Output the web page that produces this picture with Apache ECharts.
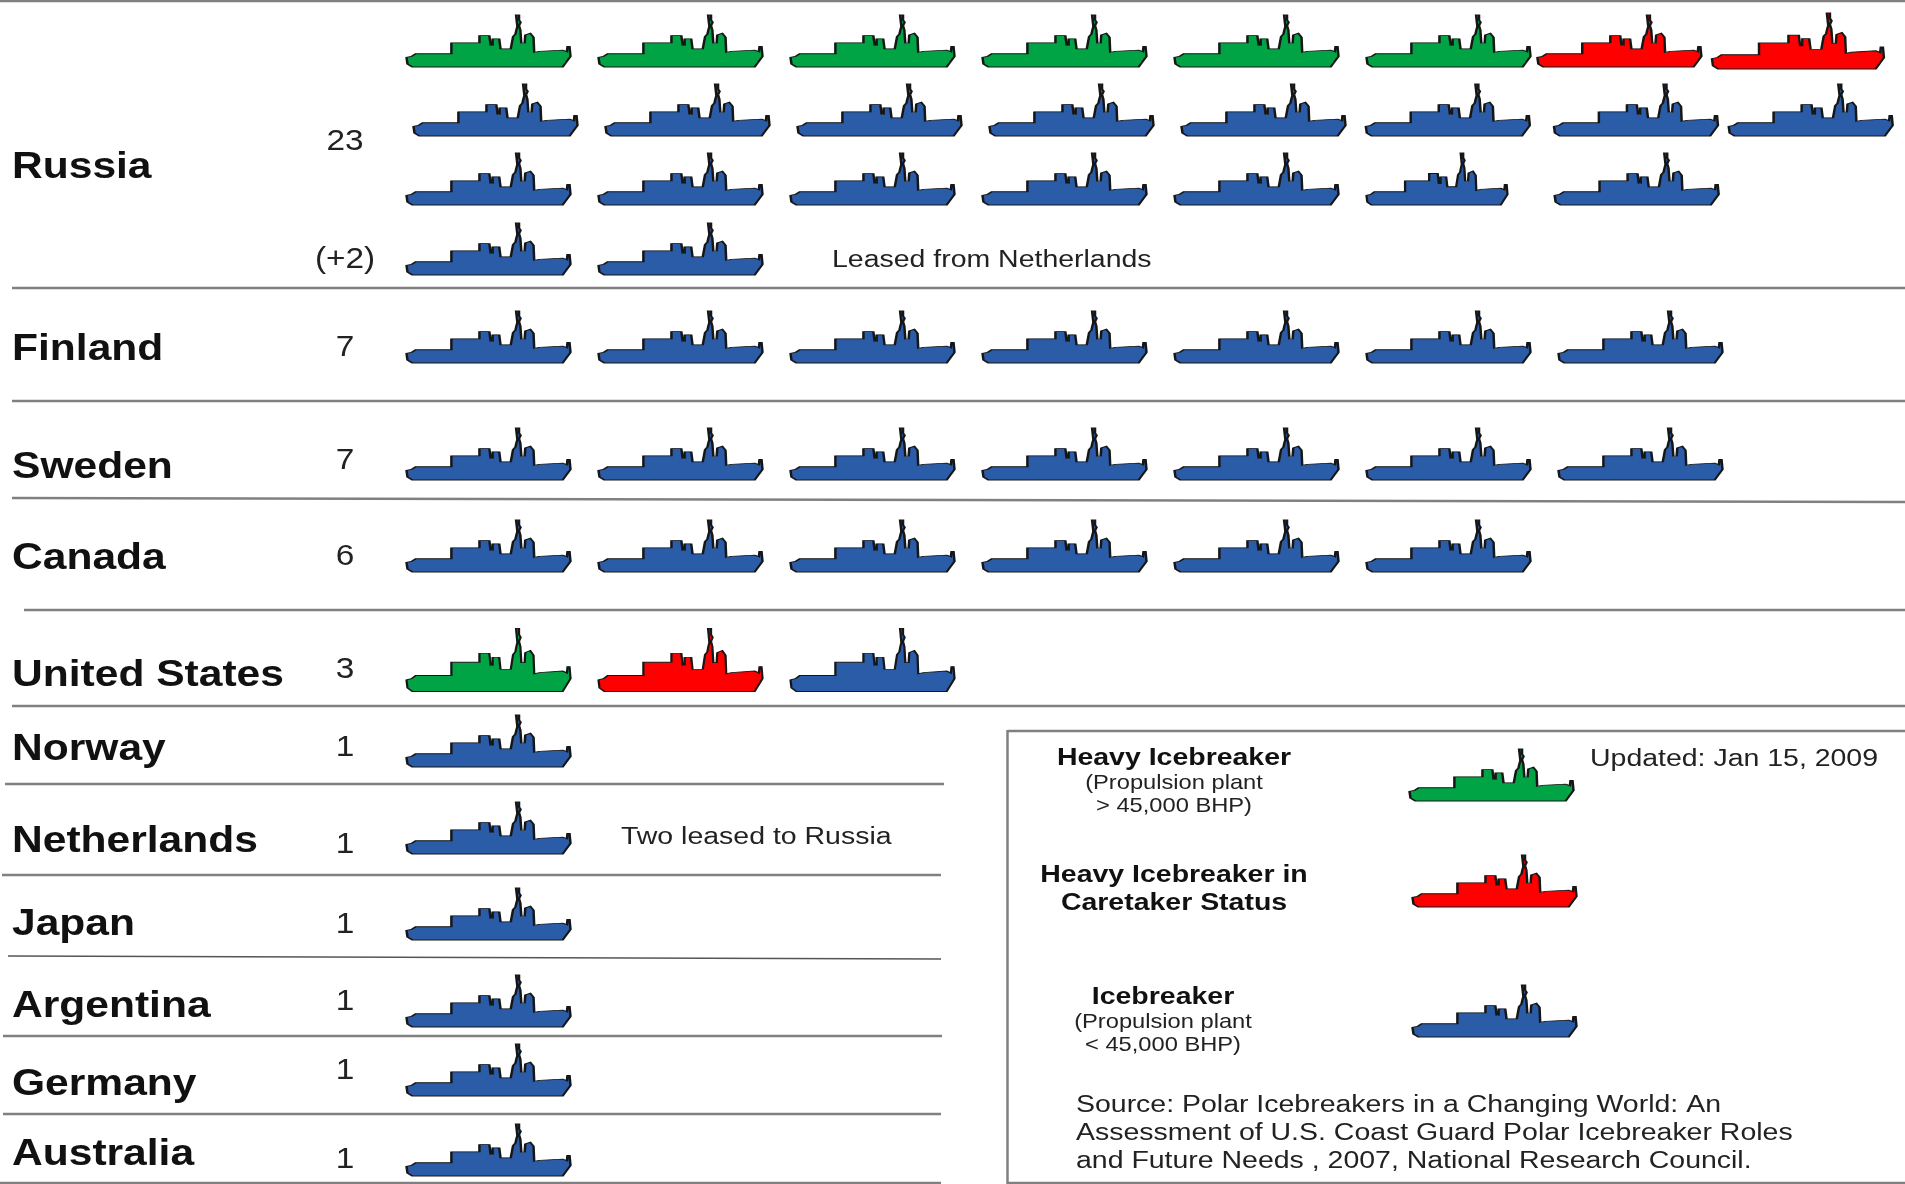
<!DOCTYPE html>
<html>
<head>
<meta charset="utf-8">
<title>Polar icebreakers by country</title>
<script src="https://cdn.jsdelivr.net/npm/echarts@6/dist/echarts.min.js"></script>
<style>
  html, body { margin: 0; padding: 0; background: #fff; }
  #chart { width: 1905px; height: 1184px; }
  /* reference is a soft upscaled image */
  #chart canvas { filter: blur(0.6px); }
</style>
</head>
<body>
<div id="chart"></div>
<script>
// H = heavy, C = heavy in caretaker status, I = icebreaker
var countries = ['Russia', 'Finland', 'Sweden', 'Canada', 'United States', 'Norway',
                 'Netherlands', 'Japan', 'Argentina', 'Germany', 'Australia'];
var countLabels = ['23', '(+2)', '7', '7', '6', '3', '1', '1', '1', '1', '1', '1'];
var fleetRows = [
  ['H', 'H', 'H', 'H', 'H', 'H', 'C', 'C'],
  ['I', 'I', 'I', 'I', 'I', 'I', 'I', 'I'],
  ['I', 'I', 'I', 'I', 'I', 'I', 'I'],
  ['I', 'I'],
  ['I', 'I', 'I', 'I', 'I', 'I', 'I'],
  ['I', 'I', 'I', 'I', 'I', 'I', 'I'],
  ['I', 'I', 'I', 'I', 'I', 'I'],
  ['H', 'C', 'I'],
  ['I'], ['I'], ['I'], ['I'], ['I'], ['I'],
  // key
  ['H'], ['C'], ['I']
];
var keyTitles = ['Heavy Icebreaker', 'Heavy Icebreaker in', 'Caretaker Status', 'Icebreaker'];
var keyNotes = ['(Propulsion plant', '> 45,000 BHP)', '(Propulsion plant', '< 45,000 BHP)'];
var notes = ['Leased from Netherlands', 'Two leased to Russia', 'Updated: Jan 15, 2009'];
var sourceLines = ['Source: Polar Icebreakers in a Changing World: An',
                   'Assessment of U.S. Coast Guard Polar Icebreaker Roles',
                   'and Future Needs , 2007, National Research Council.'];

// layout, px
var shipColor = { H: '#00a445', C: '#ff0000', I: '#2a5ca8' };
var rowMiddle = [41, 110, 179, 249, 337, 454, 546, 660, 741, 828, 914, 1001, 1070, 1150, 775, 881, 1011];
var rowLeft = [488.5, 495.5, 488.5, 488.5, 488.5, 488.5, 488.5, 488.5, 488.5, 488.5, 488.5, 488.5, 488.5, 488.5, 1491.5, 1494.5, 1494.5];
var rowShipH = { 7: 63 };
// ships that sit off the regular slot grid
var slotOverride = {
  0: { 6: 5.89, 7: 6.82 },
  1: { 5: 4.96, 6: 5.94, 7: 6.85 },
  2: { 5: 4.94, 6: 5.98 }
};
var sizeOverride = { '0-7': [172, 56], '2-5': [141, 52] };
var slotWidth = 192;

var shipPath = 'path://M17,158 L32,155 L45,147 L153,147 L153,114 L238,114 L238,92 L268,92 L272,122 L278,122 ' +
  'L278,102 L298,102 L302,132 L333,132 L340,95 L347,88 L350,75 L353,65 L349,30 L358,30 L358,45 L363,52 L358,62 ' +
  'L362,75 L365,115 L375,115 L377,90 L392,85 L402,97 L404,143 L420,140 L490,136 L503,141 L505,125 L511,125 ' +
  'L514,155 L490,187 L35,187 L20,178 Z';

var grids = [], xAxes = [], yAxes = [], series = [];
fleetRows.forEach(function (row, r) {
  var h = rowShipH[r] || 52;
  var slots = r >= 14 ? 1 : 7;
  grids.push({ left: rowLeft[r], width: slotWidth * slots, top: rowMiddle[r] - h / 2, height: h, show: false });
  xAxes.push({ type: 'value', gridIndex: r, min: 0, max: slots, show: false });
  yAxes.push({ type: 'category', gridIndex: r, data: ['ships'], show: false });
  series.push({
    type: 'scatter',
    xAxisIndex: r,
    yAxisIndex: r,
    symbol: shipPath,
    symbolSize: [164, h],
    silent: true,
    clip: false,
    data: row.map(function (kind, i) {
      var slot = (slotOverride[r] && slotOverride[r][i] !== undefined) ? slotOverride[r][i] : i;
      var item = {
        value: [slot, 0],
        itemStyle: { color: shipColor[kind], opacity: 1, borderColor: '#161616', borderWidth: 1.4 }
      };
      if (sizeOverride[r + '-' + i]) item.symbolSize = sizeOverride[r + '-' + i];
      return item;
    })
  });
});

var SANS = '"Liberation Sans", Arial, sans-serif';
var STRETCH = 1.15;   // the picture is wider than tall
function txt(text, x, y, size, weight, align) {
  return {
    type: 'text', x: x, y: y, scaleX: STRETCH, silent: true,
    style: {
      text: text, fill: weight === 'bold' ? '#111' : '#222',
      font: (weight === 'bold' ? 'bold ' : '') + size + 'px ' + SANS,
      align: align || 'left', verticalAlign: 'middle',
      textAlign: align || 'left', textVerticalAlign: 'middle'
    }
  };
}
function rule(x1, y1, x2, y2, width, color) {
  return {
    type: 'line', silent: true,
    shape: { x1: x1, y1: y1, x2: x2, y2: y2 },
    style: { stroke: color || '#808080', lineWidth: width || 2.5 }
  };
}

var countryY = [168, 350, 468, 559, 676, 750, 842, 925, 1007, 1085, 1155];
var countY = [142, 260, 348, 461, 557, 670, 748, 845, 925, 1002, 1071, 1160];
var ruleLines = [
  [0, 1, 1905, 1], [12, 288, 1905, 288], [12, 401, 1905, 401], [12, 498, 1905, 502],
  [24, 610, 1905, 610], [12, 706, 1905, 706], [5, 784, 944, 784], [2, 875, 941, 875],
  [8, 956, 941, 959], [3, 1036, 942, 1036], [3, 1114, 941, 1114], [0, 1183, 941, 1183]
];

var graphics = [];
ruleLines.forEach(function (l, i) {
  graphics.push(i === 8 ? rule(l[0], l[1], l[2], l[3], 1.6, '#555') : rule(l[0], l[1], l[2], l[3]));
});
graphics.push(rule(1007.5, 731, 1905, 731), rule(1007.5, 730, 1007.5, 1184), rule(1007, 1183, 1905, 1183));
countries.forEach(function (c, i) { graphics.push(txt(c, 12, countryY[i], 37, 'bold')); });
countLabels.forEach(function (c, i) { graphics.push(txt(c, 345, countY[i], 29, 'normal', 'center')); });
graphics.push(txt(notes[0], 832, 260, 24.75));
graphics.push(txt(notes[1], 621, 837, 24.75));
graphics.push(txt(notes[2], 1590, 759, 24.75));
graphics.push(txt(keyTitles[0], 1174, 758, 24.75, 'bold', 'center'));
graphics.push(txt(keyNotes[0], 1174, 783, 20.6, 'normal', 'center'));
graphics.push(txt(keyNotes[1], 1174, 806, 20.6, 'normal', 'center'));
graphics.push(txt(keyTitles[1], 1174, 875, 24.75, 'bold', 'center'));
graphics.push(txt(keyTitles[2], 1174, 903, 24.75, 'bold', 'center'));
graphics.push(txt(keyTitles[3], 1163, 997, 24.75, 'bold', 'center'));
graphics.push(txt(keyNotes[2], 1163, 1022, 20.6, 'normal', 'center'));
graphics.push(txt(keyNotes[3], 1163, 1045, 20.6, 'normal', 'center'));
sourceLines.forEach(function (s, i) { graphics.push(txt(s, 1076, 1105 + i * 28, 24.75)); });

var chart = echarts.init(document.getElementById('chart'), null, { renderer: 'canvas' });
chart.setOption({
  animation: false,
  backgroundColor: '#ffffff',
  grid: grids,
  xAxis: xAxes,
  yAxis: yAxes,
  series: series,
  graphic: graphics
});
</script>
</body>
</html>
